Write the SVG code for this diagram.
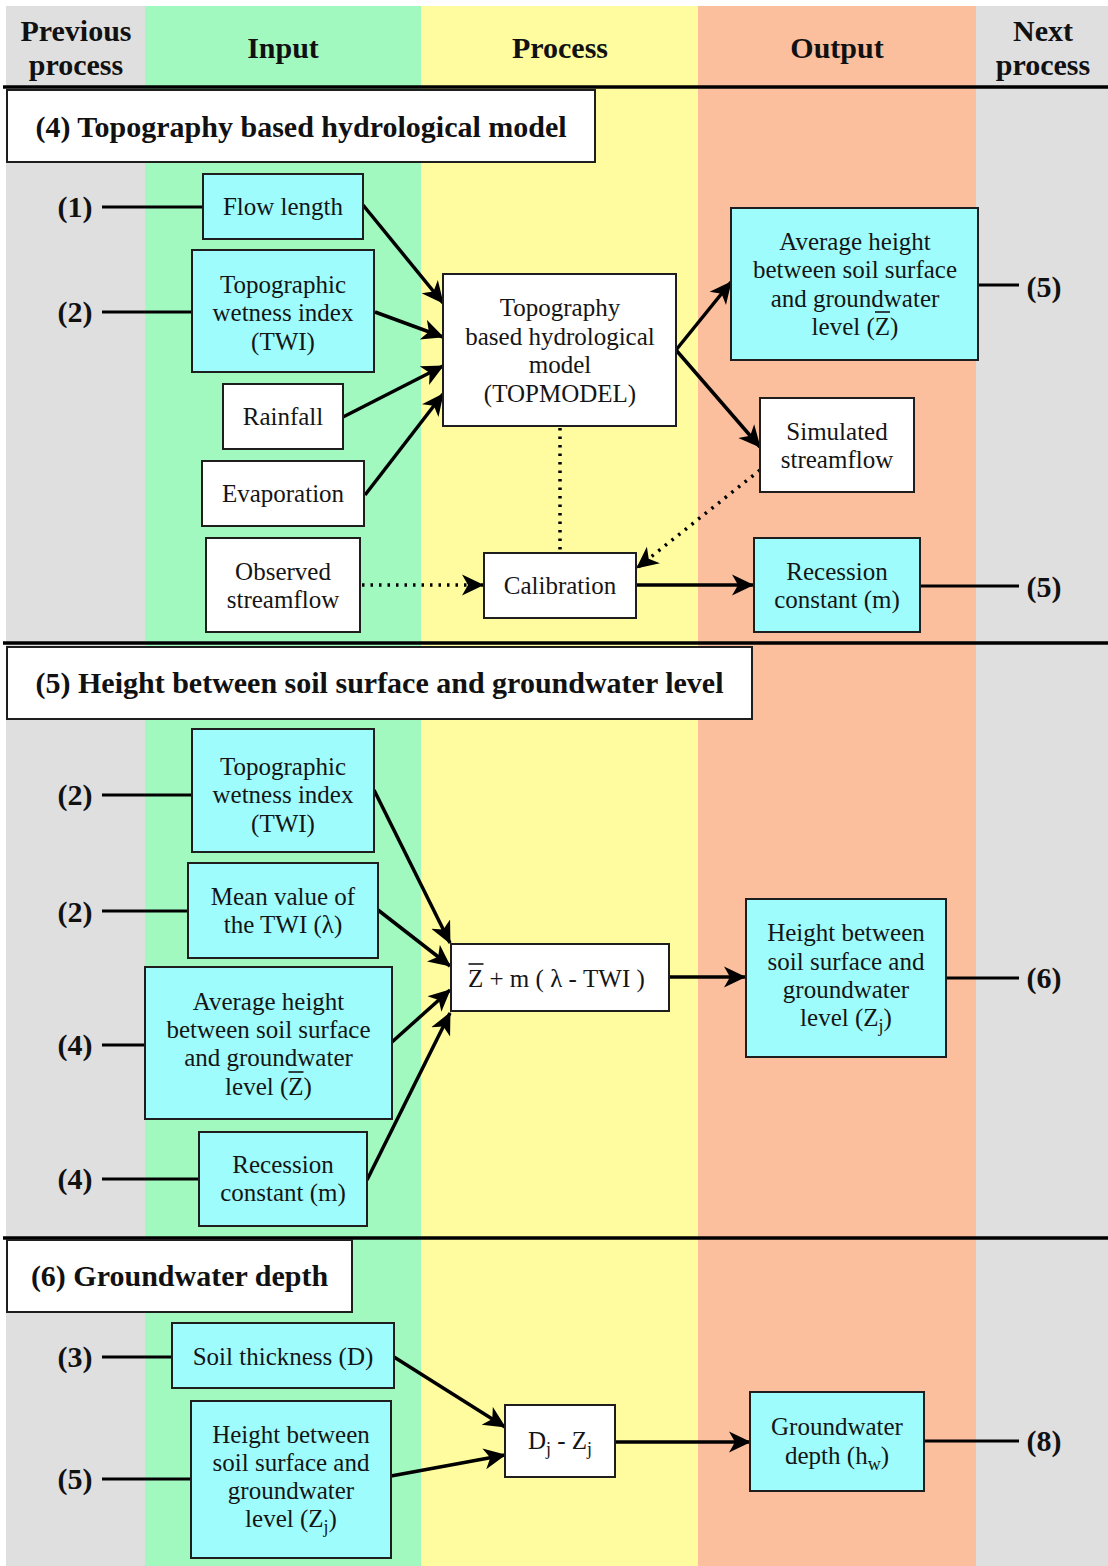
<svg xmlns="http://www.w3.org/2000/svg" width="1108" height="1566" viewBox="0 0 1108 1566">
  <defs>
    <style>
      .t { font-family: "Liberation Serif", "Times New Roman", serif; font-size: 25px; fill: #151515; text-anchor: middle; }
      .b { font-family: "Liberation Serif", "Times New Roman", serif; font-size: 30px; font-weight: bold; fill: #111; text-anchor: middle; }
      .box { stroke: #1e1e1e; stroke-width: 2; }
      .cy { fill: #9ffcfd; }
      .wh { fill: #ffffff; }
      .ln { stroke: #000; stroke-width: 3; fill: none; }
      .arr { stroke: #000; stroke-width: 3.5; fill: none; marker-end: url(#ah); }
      .dot { stroke: #000; stroke-width: 3.5; fill: none; stroke-dasharray: 2.5 6; }
      .dotarr { stroke: #000; stroke-width: 3.5; fill: none; stroke-dasharray: 2.5 6; marker-end: url(#ah); }
      .sep { stroke: #000; stroke-width: 3.5; }
      .ov { stroke: #151515; stroke-width: 1.6; }
    </style>
    <marker id="ah" markerUnits="userSpaceOnUse" markerWidth="26" markerHeight="24" refX="21" refY="11" orient="auto">
      <path d="M0,0.5 L22,11 L0,21.5 L6,11 z" fill="#000"/>
    </marker>
  </defs>

  <!-- column bands -->
  <g id="columns">
    <rect x="0" y="0" width="1108" height="1566" fill="#ffffff"/>
    <rect x="6" y="6" width="139" height="1560" fill="#dfdfdf"/>
    <rect x="145" y="6" width="276" height="1560" fill="#a2f9c0"/>
    <rect x="421" y="6" width="277" height="1560" fill="#fffc9f"/>
    <rect x="698" y="6" width="278" height="1560" fill="#fcbf9e"/>
    <rect x="976" y="6" width="132" height="1560" fill="#dfdfdf"/>
  </g>

  <!-- column headings -->
  <g id="headings">
    <text class="b" x="76" y="41">Previous</text>
    <text class="b" x="76" y="75">process</text>
    <text class="b" x="283" y="58">Input</text>
    <text class="b" x="560" y="58">Process</text>
    <text class="b" x="837" y="58">Output</text>
    <text class="b" x="1043" y="41">Next</text>
    <text class="b" x="1043" y="75">process</text>
  </g>

  <!-- section separators -->
  <g id="separators">
    <line class="sep" x1="3" y1="87" x2="1108" y2="87"/>
    <line class="sep" x1="3" y1="643" x2="1108" y2="643"/>
    <line class="sep" x1="3" y1="1238" x2="1108" y2="1238"/>
  </g>

  <!-- section titles -->
  <g id="title-4">
    <rect class="box wh" x="7" y="90" width="588" height="72"/>
    <text class="b" x="301" y="137">(4) Topography based hydrological model</text>
  </g>
  <g id="title-5">
    <rect class="box wh" x="7" y="647" width="745" height="72"/>
    <text class="b" x="379.5" y="693">(5) Height between soil surface and groundwater level</text>
  </g>
  <g id="title-6">
    <rect class="box wh" x="7" y="1240" width="345" height="72"/>
    <text class="b" x="179.5" y="1286">(6) Groundwater depth</text>
  </g>

  <!-- references to other processes -->
  <g id="refs">
    <text class="b" x="75" y="217">(1)</text>
    <text class="b" x="75" y="322">(2)</text>
    <text class="b" x="1044" y="297">(5)</text>
    <text class="b" x="1044" y="597">(5)</text>
    <text class="b" x="75" y="805">(2)</text>
    <text class="b" x="75" y="922">(2)</text>
    <text class="b" x="75" y="1055">(4)</text>
    <text class="b" x="75" y="1189">(4)</text>
    <text class="b" x="1044" y="988">(6)</text>
    <text class="b" x="75" y="1367">(3)</text>
    <text class="b" x="75" y="1489">(5)</text>
    <text class="b" x="1044" y="1451">(8)</text>
  </g>

  <!-- connectors -->
  <g id="connectors">
    <!-- section 4 -->
    <line class="ln" x1="102" y1="207" x2="203" y2="207"/>
    <line class="ln" x1="102" y1="312" x2="192" y2="312"/>
    <line class="arr" x1="363" y1="205" x2="443" y2="303"/>
    <line class="arr" x1="375" y1="312" x2="443" y2="337"/>
    <line class="arr" x1="343" y1="417" x2="443" y2="366"/>
    <line class="arr" x1="365" y1="495" x2="443" y2="394"/>
    <line class="arr" x1="676" y1="350" x2="731" y2="282"/>
    <line class="arr" x1="676" y1="350" x2="760" y2="447"/>
    <line class="ln" x1="978" y1="285" x2="1019" y2="285"/>
    <line class="dotarr" x1="362" y1="585" x2="483" y2="585"/>
    <line class="dot" x1="560" y1="428" x2="560" y2="552"/>
    <line class="dotarr" x1="760" y1="470" x2="637" y2="568"/>
    <line class="arr" x1="636" y1="585" x2="753" y2="585"/>
    <line class="ln" x1="920" y1="586" x2="1019" y2="586"/>
    <!-- section 5 -->
    <line class="ln" x1="102" y1="795" x2="192" y2="795"/>
    <line class="ln" x1="102" y1="911" x2="188" y2="911"/>
    <line class="ln" x1="102" y1="1045" x2="145" y2="1045"/>
    <line class="ln" x1="102" y1="1179" x2="199" y2="1179"/>
    <line class="arr" x1="374" y1="790" x2="450" y2="943"/>
    <line class="arr" x1="378" y1="910" x2="450" y2="966"/>
    <line class="arr" x1="392" y1="1042" x2="450" y2="990"/>
    <line class="arr" x1="367" y1="1180" x2="450" y2="1013"/>
    <line class="arr" x1="669" y1="977" x2="745" y2="977"/>
    <line class="ln" x1="946" y1="978" x2="1019" y2="978"/>
    <!-- section 6 -->
    <line class="ln" x1="102" y1="1357" x2="172" y2="1357"/>
    <line class="ln" x1="102" y1="1479" x2="191" y2="1479"/>
    <line class="arr" x1="394" y1="1357" x2="505" y2="1427"/>
    <line class="arr" x1="391" y1="1476" x2="505" y2="1455"/>
    <line class="arr" x1="615" y1="1442" x2="750" y2="1442"/>
    <line class="ln" x1="924" y1="1441" x2="1019" y2="1441"/>
  </g>

  <!-- section 4 nodes -->
  <g id="flow-length">
    <rect class="box cy" x="203" y="174" width="160" height="65"/>
    <text class="t" x="283" y="215">Flow length</text>
  </g>
  <g id="twi-4">
    <rect class="box cy" x="192" y="250" width="182" height="122"/>
    <text class="t" x="283" y="293">Topographic</text>
    <text class="t" x="283" y="321">wetness index</text>
    <text class="t" x="283" y="350">(TWI)</text>
  </g>
  <g id="rainfall">
    <rect class="box wh" x="223" y="384" width="120" height="65"/>
    <text class="t" x="283" y="425">Rainfall</text>
  </g>
  <g id="evaporation">
    <rect class="box wh" x="202" y="461" width="162" height="65"/>
    <text class="t" x="283" y="502">Evaporation</text>
  </g>
  <g id="observed-streamflow">
    <rect class="box wh" x="206" y="538" width="154" height="94"/>
    <text class="t" x="283" y="580">Observed</text>
    <text class="t" x="283" y="608">streamflow</text>
  </g>
  <g id="topmodel">
    <rect class="box wh" x="443" y="274" width="233" height="152"/>
    <text class="t" x="560" y="316">Topography</text>
    <text class="t" x="560" y="345">based hydrological</text>
    <text class="t" x="560" y="373">model</text>
    <text class="t" x="560" y="402">(TOPMODEL)</text>
  </g>
  <g id="calibration">
    <rect class="box wh" x="484" y="553" width="152" height="65"/>
    <text class="t" x="560" y="594">Calibration</text>
  </g>
  <g id="avg-height-4">
    <rect class="box cy" x="731" y="208" width="247" height="152"/>
    <text class="t" x="855" y="250">Average height</text>
    <text class="t" x="855" y="278">between soil surface</text>
    <text class="t" x="855" y="307">and groundwater</text>
    <text class="t" x="855" y="335">level (Z)</text>
    <line class="ov" x1="875" y1="312" x2="890" y2="312"/>
  </g>
  <g id="simulated-streamflow">
    <rect class="box wh" x="760" y="398" width="154" height="94"/>
    <text class="t" x="837" y="440">Simulated</text>
    <text class="t" x="837" y="468">streamflow</text>
  </g>
  <g id="recession-4">
    <rect class="box cy" x="754" y="538" width="166" height="94"/>
    <text class="t" x="837" y="580">Recession</text>
    <text class="t" x="837" y="608">constant (m)</text>
  </g>

  <!-- section 5 nodes -->
  <g id="twi-5">
    <rect class="box cy" x="192" y="729" width="182" height="123"/>
    <text class="t" x="283" y="775">Topographic</text>
    <text class="t" x="283" y="803">wetness index</text>
    <text class="t" x="283" y="832">(TWI)</text>
  </g>
  <g id="twi-mean">
    <rect class="box cy" x="188" y="863" width="190" height="95"/>
    <text class="t" x="283" y="905">Mean value of</text>
    <text class="t" x="283" y="933">the TWI (λ)</text>
  </g>
  <g id="avg-height-5">
    <rect class="box cy" x="145" y="967" width="247" height="152"/>
    <text class="t" x="268.5" y="1010">Average height</text>
    <text class="t" x="268.5" y="1038">between soil surface</text>
    <text class="t" x="268.5" y="1066">and groundwater</text>
    <text class="t" x="268.5" y="1095">level (Z)</text>
    <line class="ov" x1="288.5" y1="1072" x2="303.5" y2="1072"/>
  </g>
  <g id="recession-5">
    <rect class="box cy" x="199" y="1132" width="168" height="94"/>
    <text class="t" x="283" y="1173">Recession</text>
    <text class="t" x="283" y="1201">constant (m)</text>
  </g>
  <g id="formula-z">
    <rect class="box wh" x="451" y="944" width="218" height="67"/>
    <text class="t" x="468" y="987" style="text-anchor:start">Z + m ( λ - TWI )</text>
    <line class="ov" x1="468.5" y1="964" x2="483.5" y2="964"/>
  </g>
  <g id="height-zj-5">
    <rect class="box cy" x="746" y="899" width="200" height="158"/>
    <text class="t" x="846" y="941">Height between</text>
    <text class="t" x="846" y="970">soil surface and</text>
    <text class="t" x="846" y="998">groundwater</text>
    <text class="t" x="846" y="1026">level (Z<tspan font-size="18" dy="6">j</tspan><tspan dy="-6">)</tspan></text>
  </g>

  <!-- section 6 nodes -->
  <g id="soil-thickness">
    <rect class="box cy" x="172" y="1323" width="222" height="65"/>
    <text class="t" x="283" y="1365">Soil thickness (D)</text>
  </g>
  <g id="height-zj-6">
    <rect class="box cy" x="191" y="1401" width="200" height="157"/>
    <text class="t" x="291" y="1443">Height between</text>
    <text class="t" x="291" y="1471">soil surface and</text>
    <text class="t" x="291" y="1499">groundwater</text>
    <text class="t" x="291" y="1527">level (Z<tspan font-size="18" dy="6">j</tspan><tspan dy="-6">)</tspan></text>
  </g>
  <g id="formula-depth">
    <rect class="box wh" x="505" y="1405" width="110" height="72"/>
    <text class="t" x="560" y="1449">D<tspan font-size="18" dy="6">j</tspan><tspan dy="-6"> - Z</tspan><tspan font-size="18" dy="6">j</tspan></text>
  </g>
  <g id="groundwater-depth">
    <rect class="box cy" x="750" y="1392" width="174" height="99"/>
    <text class="t" x="837" y="1435">Groundwater</text>
    <text class="t" x="837" y="1464">depth (h<tspan font-size="18" dy="6">w</tspan><tspan dy="-6">)</tspan></text>
  </g>
</svg>
